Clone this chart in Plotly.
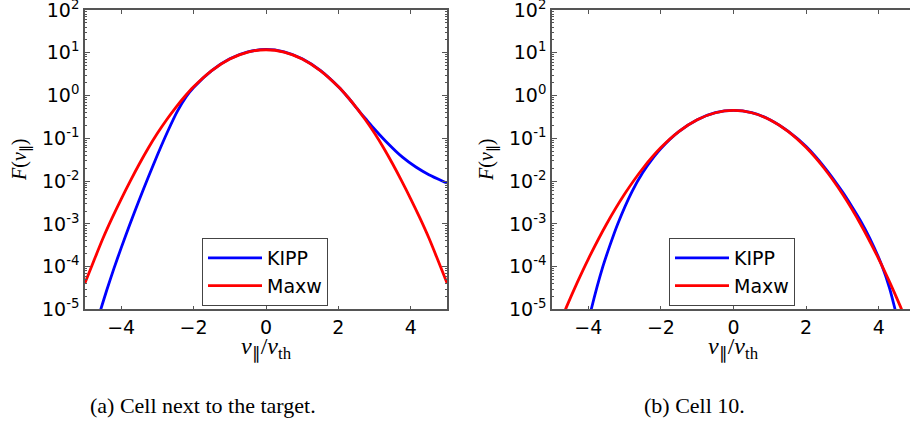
import plotly.graph_objects as go

# ---------------- data (log10 of F) ----------------
# Panel (a): cell next to the target
v_maxw_a = [-5.0, -4.75, -4.5, -4.25, -4.0, -3.75, -3.5, -3.25, -3.0, -2.75, -2.5, -2.25, -2.0, -1.5, -1.0, -0.5,
            0.0, 0.5, 1.0, 1.5, 2.0, 2.25, 2.5, 2.75, 3.0, 3.25, 3.5, 3.75, 4.0, 4.25, 4.5, 4.75, 5.0]
logf_maxw_a = [-4.38, -3.85, -3.33, -2.86, -2.42, -2.00, -1.60, -1.225, -0.882, -0.570, -0.285, -0.027, 0.204,
               0.584, 0.855, 1.018, 1.072, 1.018, 0.855, 0.584, 0.204, -0.027, -0.285, -0.570, -0.882,
               -1.225, -1.60, -2.00, -2.42, -2.86, -3.33, -3.85, -4.38]

v_kipp_a = [-4.7, -4.58, -4.4, -4.2, -4.0, -3.76, -3.5, -3.25, -3.0, -2.72, -2.45, -2.2, -2.0, -1.5, -1.0, -0.5,
            0.0, 0.5, 1.0, 1.5, 2.0, 2.25, 2.5, 2.6, 2.75, 2.95, 3.3, 3.77, 4.14, 4.5, 4.96, 5.0]
logf_kipp_a = [-5.375, -5.04, -4.55, -4.04, -3.56, -3.01, -2.435, -1.905, -1.39, -0.846, -0.37, -0.02, 0.19,
               0.585, 0.86, 1.022, 1.078, 1.022, 0.86, 0.588, 0.206, -0.027, -0.285, -0.39, -0.54, -0.74,
               -1.06, -1.44, -1.67, -1.85, -2.03, -2.045]

# Panel (b): cell 10
v_maxw_b = [-4.8, -4.6, -4.3, -4.0, -3.5, -3.0, -2.5, -2.0, -1.5, -1.0, -0.5,
            0.0, 0.5, 1.0, 1.5, 2.0, 2.5, 3.0, 3.5, 4.0, 4.3, 4.6, 4.8]
logf_maxw_b = [-5.35, -4.94, -4.36, -3.82, -3.006, -2.301, -1.704, -1.215, -0.835, -0.564, -0.401,
               -0.347, -0.401, -0.564, -0.835, -1.215, -1.704, -2.301, -3.006, -3.82, -4.36, -4.94, -5.35]

v_kipp_b = [-4.0, -3.92, -3.6, -3.4, -3.19, -2.8, -2.5, -2.2, -2.0, -1.5, -1.0, -0.5,
            0.0, 0.5, 1.0, 1.5, 2.0, 2.5, 3.0, 3.25, 3.5, 3.75, 4.08, 4.3, 4.45, 4.55]
logf_kipp_b = [-5.3, -5.0, -4.0, -3.49, -3.0, -2.25, -1.80, -1.44, -1.235, -0.838, -0.564, -0.399,
               -0.345, -0.399, -0.562, -0.83, -1.19, -1.67, -2.25, -2.58, -2.93, -3.33, -3.96, -4.51, -5.0, -5.34]

series_names = ["KIPP", "Maxw"]
x_ticks = [-4, -2, 0, 2, 4]
y_exponents = [-5, -4, -3, -2, -1, 0, 1, 2]
y_ticklabels = ["10<sup>%d</sup>" % e for e in y_exponents]
captions = ["(a) Cell next to the target.", "(b) Cell 10."]

def to_lin(vals):
    return [10.0 ** v for v in vals]

# ---------------- figure ----------------
BLUE = "#0000ff"
RED = "#ff0000"
W, H = 910, 426

fig = go.Figure()

def add_line(x, logy, color, name, xa, ya, leg):
    fig.add_trace(go.Scatter(x=x, y=to_lin(logy), mode="lines", name=name,
                             line=dict(color=color, width=2.8, shape="spline", smoothing=0.8),
                             xaxis=xa, yaxis=ya, legend=leg))

add_line(v_kipp_a, logf_kipp_a, BLUE, series_names[0], "x", "y", "legend")
add_line(v_maxw_a, logf_maxw_a, RED, series_names[1], "x", "y", "legend")
add_line(v_kipp_b, logf_kipp_b, BLUE, series_names[0], "x2", "y2", "legend2")
add_line(v_maxw_b, logf_maxw_b, RED, series_names[1], "x2", "y2", "legend2")

tick_font = dict(family="DejaVu Sans", size=19, color="black")
frame = "#555555"

minor_vals = [m * 10.0 ** e for e in range(-5, 2) for m in range(2, 10)]

def xaxis_cfg(domain, rng, anchor):
    return dict(domain=domain, range=rng, anchor=anchor, tickvals=x_ticks,
                ticks="inside", ticklen=4, tickwidth=1, tickcolor=frame,
                showline=True, linecolor=frame, linewidth=1.5, mirror="allticks",
                showgrid=False, zeroline=False, tickfont=tick_font, automargin=False,
                ticklabeloverflow="allow")

def yaxis_cfg(anchor, mirror):
    return dict(domain=[0.2735, 0.9765], type="log", range=[-5, 2.0005], anchor=anchor,
                tickvals=[10.0 ** e for e in y_exponents], ticktext=y_ticklabels,
                ticks="inside", ticklen=5, tickwidth=1, tickcolor=frame,
                minor=dict(tickvals=minor_vals, ticks="inside", ticklen=2.5, tickcolor=frame, showgrid=False),
                showline=True, linecolor=frame, linewidth=1.5, mirror=mirror,
                showgrid=False, zeroline=False, tickfont=tick_font, automargin=False,
                ticklabeloverflow="allow")

leg_common = dict(font=dict(family="DejaVu Sans", size=19, color="black"),
                  bgcolor="white", bordercolor="#444444", borderwidth=1,
                  xanchor="left", yanchor="top", tracegroupgap=0, itemwidth=54)

fig.update_layout(
    width=W, height=H,
    margin=dict(l=0, r=0, t=0, b=0, autoexpand=False),
    paper_bgcolor="white", plot_bgcolor="white",
    xaxis=xaxis_cfg([85 / W, 447 / W], [-5, 5], "y"),
    yaxis=yaxis_cfg("x", "allticks"),
    xaxis2=xaxis_cfg([552 / W, 1.0], [-5, 4.86], "y2"),
    yaxis2=yaxis_cfg("x2", False),
    legend=dict(x=202 / W, y=(H - 238) / H, **leg_common),
    legend2=dict(x=669 / W, y=(H - 238) / H, **leg_common),
    showlegend=True,
)

serif = "Liberation Serif"
xlabel = "<i>v</i><sub>∥</sub>/<i>v</i><sub>th</sub>"
ylabel = "<i>F</i>(<i>v</i><sub>∥</sub>)"
ann = []
for cx in [266, 733]:
    ann.append(dict(x=cx / W, y=(H - 348) / H, xref="paper", yref="paper", text=xlabel,
                    showarrow=False, font=dict(family=serif, size=24, color="black"),
                    xanchor="center", yanchor="middle"))
for lx in [20, 487]:
    ann.append(dict(x=lx / W, y=(H - 160) / H, xref="paper", yref="paper", text=ylabel,
                    showarrow=False, textangle=-90, font=dict(family=serif, size=20, color="black"),
                    xanchor="center", yanchor="middle"))
for cx, txt in zip([203, 694], captions):
    ann.append(dict(x=cx / W, y=(H - 405) / H, xref="paper", yref="paper", text=txt,
                    showarrow=False, font=dict(family=serif, size=22, color="black"),
                    xanchor="center", yanchor="middle"))
fig.update_layout(annotations=ann)

fig.write_html("out.html", config={"displayModeBar": False},
               post_script="document.body.style.margin='0';document.body.style.padding='0';document.body.style.overflow='hidden';")
